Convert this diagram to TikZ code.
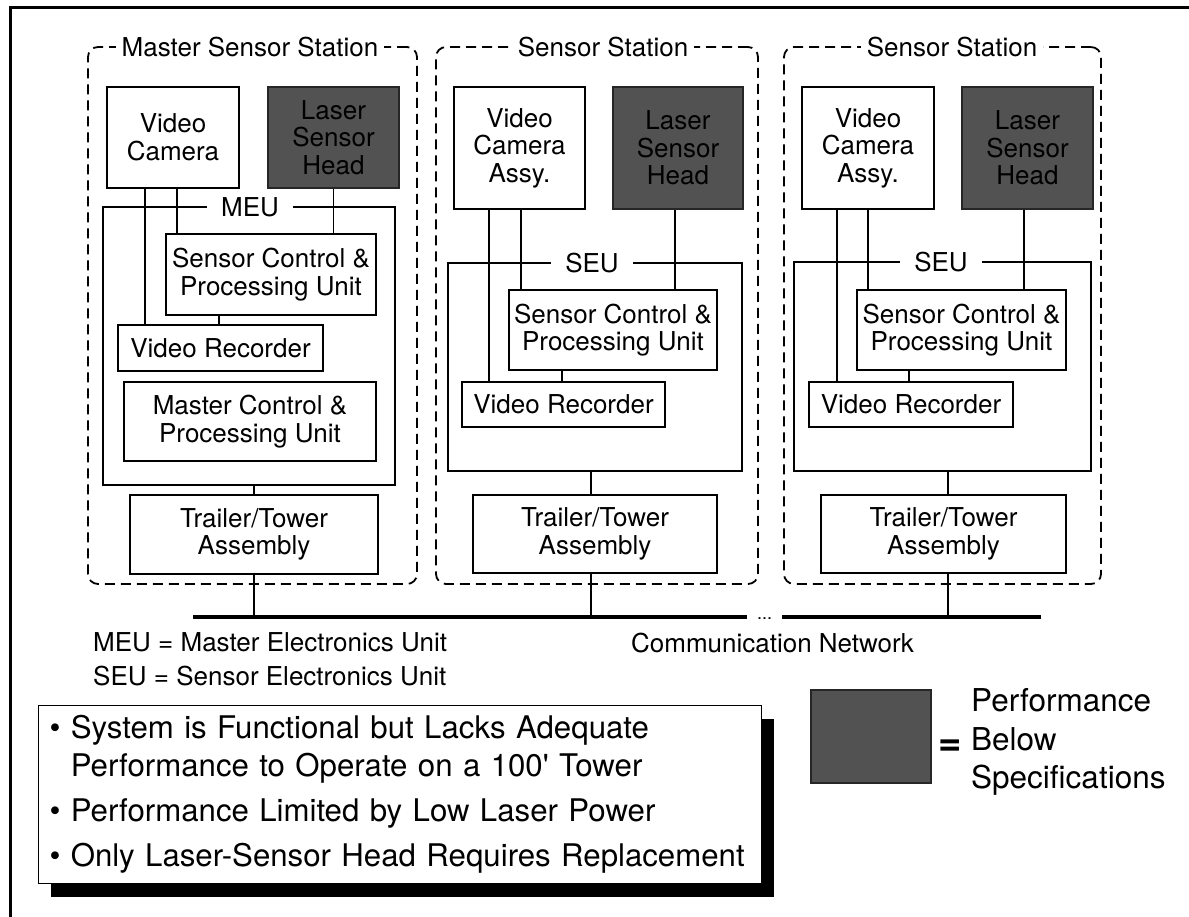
\documentclass[tikz,border=0pt]{standalone}
\usepackage{fontspec}
\setmainfont{TeX Gyre Heros}
\usetikzlibrary{shadows}

\newcommand{\boxfont}{\fontsize{26}{27.5}\selectfont}
\newcommand{\notefont}{\fontsize{31.2}{38}\selectfont}
\newcommand{\legendfont}{\fontsize{31.5}{38.5}\selectfont}

\begin{document}
\begin{tikzpicture}[x=1pt, y=-1pt,
  unit/.style={rectangle, draw=black, line width=1.3pt, fill=white,
    align=center, font=\boxfont, inner sep=0pt},
  laser/.style={unit, fill=black!68, draw=black!85, text=black},
  station/.style={rectangle, rounded corners=10pt, draw=black,
    line width=1.8pt, dash pattern=on 10pt off 6pt},
  elecunit/.style={rectangle, draw=black, line width=1.3pt},
  stitle/.style={fill=white, font=\boxfont, inner xsep=6pt, inner ysep=2pt},
  eulabel/.style={fill=white, font=\boxfont, inner xsep=14pt, inner ysep=2pt},
  wire/.style={line width=1.3pt},
  bus/.style={line width=4pt},
  plain/.style={font=\boxfont, inner sep=0pt},
  notebox/.style={rectangle, draw=black, line width=1pt, fill=white,
    font=\notefont, align=left, text width=700pt, inner xsep=11.5pt,
    drop shadow={shadow xshift=13pt, shadow yshift=-14pt, fill=black, opacity=1}},
]
\useasboundingbox (0,0) rectangle (1189,917);
\draw[line width=3pt] (10,917) -- (10,8) -- (1189,8);
%
% ====== MASTER SENSOR STATION ======
\node[station, minimum width=329pt, minimum height=537pt] (a_stn) at (252.5,315.5) {};
\node[stitle] (a_title) at (250,47) {Master Sensor Station};
\node[elecunit, minimum width=292pt, minimum height=278pt] (a_eu) at (249,346) {};
\node[eulabel] (a_eulabel) at (250,207) {MEU};
\node[unit, minimum width=132pt, minimum height=101pt] (a_cam) at (173,137.5) {Video\\Camera};
\node[laser, minimum width=131pt, minimum height=101pt] (a_laser) at (333.5,137.5) {Laser\\Sensor\\Head};
\node[unit, minimum width=210pt, minimum height=81pt] (a_scpu) at (271,274.5)
  {Sensor Control \&\\Processing Unit};
\node[unit, minimum width=205pt, minimum height=46pt] (a_vr) at (220.5,348) {Video Recorder};
\node[unit, minimum width=252pt, minimum height=79pt] (a_mcpu) at (250,421.5)
  {Master Control \&\\Processing Unit};
\node[unit, minimum width=248pt, minimum height=79pt] (a_tt) at (254,534.5)
  {Trailer/Tower\\Assembly};
%
% ====== SENSOR STATION (middle) ======
\node[station, minimum width=322pt, minimum height=537pt] (b_stn) at (597,315.5) {};
\node[stitle] (b_title) at (603,47) {Sensor Station};
\node[elecunit, minimum width=294pt, minimum height=208pt] (b_eu) at (595,367) {};
\node[eulabel] (b_eulabel) at (592,263) {SEU};
\node[unit, minimum width=131pt, minimum height=122pt] (b_cam) at (519.5,148) {Video\\Camera\\Assy.};
\node[laser, minimum width=130pt, minimum height=122pt] (b_laser) at (678,148) {Laser\\Sensor\\Head};
\node[unit, minimum width=208pt, minimum height=80pt] (b_scpu) at (613,330)
  {Sensor Control \&\\Processing Unit};
\node[unit, minimum width=203pt, minimum height=45pt] (b_vr) at (563.5,404.5) {Video Recorder};
\node[unit, minimum width=244pt, minimum height=78pt] (b_tt) at (595,534)
  {Trailer/Tower\\Assembly};
%
% ====== SENSOR STATION (right) ======
\node[station, minimum width=317pt, minimum height=537pt] (c_stn) at (942.5,315.5) {};
\node[stitle] (c_title) at (952,47) {Sensor Station};
\node[elecunit, minimum width=297pt, minimum height=209pt] (c_eu) at (942.5,366.5) {};
\node[eulabel] (c_eulabel) at (941,262) {SEU};
\node[unit, minimum width=132pt, minimum height=122pt] (c_cam) at (868,148) {Video\\Camera\\Assy.};
\node[laser, minimum width=131pt, minimum height=122pt] (c_laser) at (1027.5,148) {Laser\\Sensor\\Head};
\node[unit, minimum width=209pt, minimum height=80pt] (c_scpu) at (961.5,330)
  {Sensor Control \&\\Processing Unit};
\node[unit, minimum width=204pt, minimum height=45pt] (c_vr) at (911,404.5) {Video Recorder};
\node[unit, minimum width=245pt, minimum height=78pt] (c_tt) at (943.5,534)
  {Trailer/Tower\\Assembly};
%
% ====== COMMUNICATION NETWORK ======
\coordinate (net_l) at (193,617);
\coordinate (net_gl) at (747,617);
\coordinate (net_gr) at (782,617);
\coordinate (net_r) at (1041,617);
\draw[bus] (net_l) -- (net_gl);
\draw[bus] (net_gr) -- (net_r);
\node[font=\fontsize{18}{18}\selectfont, inner sep=0pt, anchor=base] (net_dots) at (764.5,619) {...};
\node[plain] (net_label) at (772.5,643) {Communication Network};
%
% ====== WIRES ======
\draw[wire] ([xshift=-28pt]a_cam.south) -- ([xshift=-28pt]a_cam.south |- a_vr.north);
\draw[wire] ([xshift=4pt]a_cam.south) -- ([xshift=4pt]a_cam.south |- a_scpu.north);
\draw[wire] (a_laser.south) -- (a_laser.south |- a_scpu.north);
\draw[wire] ([xshift=-1.5pt]a_vr.north) -- ([xshift=-1.5pt]a_vr.north |- a_scpu.south);
\draw[wire] (a_tt.north) -- (a_tt.north |- a_eu.south);
\draw[wire] (a_tt.south) -- (a_tt.south |- net_l);
%
\draw[wire] ([xshift=-30.5pt]b_cam.south) -- ([xshift=-30.5pt]b_cam.south |- b_vr.north);
\draw[wire] ([xshift=1.5pt]b_cam.south) -- ([xshift=1.5pt]b_cam.south |- b_scpu.north);
\draw[wire] ([xshift=-3pt]b_laser.south) -- ([xshift=-3pt]b_laser.south |- b_scpu.north);
\draw[wire] ([xshift=-1.5pt]b_vr.north) -- ([xshift=-1.5pt]b_vr.north |- b_scpu.south);
\draw[wire] ([xshift=-4pt]b_tt.north) -- ([xshift=-4pt]b_tt.north |- b_eu.south);
\draw[wire] ([xshift=-4pt]b_tt.south) -- ([xshift=-4pt]b_tt.south |- net_l);
%
\draw[wire] ([xshift=-31pt]c_cam.south) -- ([xshift=-31pt]c_cam.south |- c_vr.north);
\draw[wire] (c_cam.south) -- (c_cam.south |- c_scpu.north);
\draw[wire] ([xshift=-3.5pt]c_laser.south) -- ([xshift=-3.5pt]c_laser.south |- c_scpu.north);
\draw[wire] ([xshift=-2pt]c_vr.north) -- ([xshift=-2pt]c_vr.north |- c_scpu.south);
\draw[wire] ([xshift=4.5pt]c_tt.north) -- ([xshift=4.5pt]c_tt.north |- c_eu.south);
\draw[wire] ([xshift=4.5pt]c_tt.south) -- ([xshift=4.5pt]c_tt.south |- net_r);
%
% ====== ABBREVIATIONS, NOTES, LEGEND ======
\node[plain, anchor=west] (abbr_meu) at (93,642) {MEU = Master Electronics Unit};
\node[plain, anchor=west] (abbr_seu) at (93,676) {SEU = Sensor Electronics Unit};
\node[notebox, minimum height=178pt] (notes) at (399.5,794)
  {\textbullet~System is Functional but Lacks Adequate\\
   \hphantom{\textbullet~}Performance to Operate on a 100\textquotesingle\ Tower\\[7pt]
   \textbullet~Performance Limited by Low Laser Power\\[7pt]
   \textbullet~Only Laser-Sensor Head Requires Replacement};
\node[laser, minimum width=120pt, minimum height=93pt] (legend_box) at (871,736.5) {};
\node[font=\fontsize{40}{40}\selectfont\bfseries, inner sep=0pt] (legend_eq) at (950,748) {=};
\node[font=\legendfont, align=left, anchor=west, inner sep=0pt] (legend_txt) at (971,742)
  {Performance\\Below\\Specifications};
\end{tikzpicture}
\end{document}
